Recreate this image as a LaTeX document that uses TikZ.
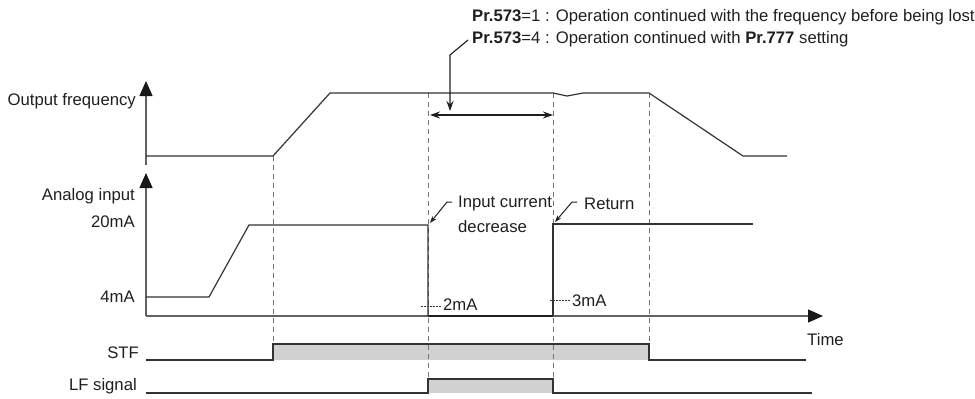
\documentclass[tikz,border=0pt]{standalone}
\usepackage{fontspec}
\setmainfont{Liberation Sans}
\usetikzlibrary{arrows.meta}
\begin{document}
\begin{tikzpicture}[x=1pt,y=-1pt,
  lbl/.style={font=\fontsize{16.7}{20}\selectfont, inner sep=0pt, text=black!88},
  sig/.style={draw=black!80, line width=1.2pt},
  thick sig/.style={draw=black!88, line width=1.8pt},
  ax/.style={draw=black!62, line width=1.3pt},
  vl/.style={draw=black!55, dash pattern=on 5pt off 4pt, line width=0.9pt},
  dotl/.style={draw=black!80, dash pattern=on 1.5pt off 1.5pt, line width=1pt},
  grayfill/.style={fill=black!18, draw=none},
  axhead/.style={-{Triangle[width=13pt,length=15pt,color=black!90]}},
  ptr/.style={draw=black!88, line width=1.1pt, -{Stealth[width=7pt,length=10pt]}},
  dbl/.style={draw=black!88, line width=1.1pt, {Stealth[width=7pt,length=10pt]}-{Stealth[width=7pt,length=10pt]}}
]
\useasboundingbox (0,0) rectangle (975,399);

% fills
\fill[grayfill] (273,344) rectangle (649,360);
\fill[grayfill] (428,379) rectangle (553,393);

% dashed verticals
\draw[vl] (273,156) -- (273,344);
\draw[vl] (428,93) -- (428,379);
\draw[vl] (553,93) -- (553,379);
\draw[vl] (649,93) -- (649,344);

% axes
\coordinate (ofb) at (146,165);
\coordinate (oft) at (146,81);
\draw[ax,axhead] (ofb) -- (oft);
\coordinate (org) at (146,316);
\coordinate (ait) at (146,173);
\coordinate (tend) at (823,316);
\draw[ax,axhead] (org) -- (ait);
\draw[ax,axhead] (org) -- (tend);

% output frequency
\draw[sig] (146,156) -- (273,156) -- (330,93) -- (553,93) -- (567,96) -- (583,93) -- (649,93) -- (743,156) -- (787,156);

% analog input
\draw[sig] (146,297) -- (209,297) -- (249,225) -- (428,225) -- (428,316);
\draw[thick sig] (428,316) -- (553,316);
\draw[sig] (553,316) -- (553,224) -- (753,224);

% STF
\draw[sig] (146,360) -- (273,360) -- (273,344) -- (649,344) -- (649,360) -- (806,360);
% LF
\draw[sig] (146,393) -- (428,393) -- (428,379) -- (553,379) -- (553,393) -- (812,393);

% dotted level marks
\draw[dotl] (421,306) -- (442,306);
\draw[dotl] (550,300) -- (570,300);

% double arrow
\coordinate (da1) at (430,115);
\coordinate (da2) at (553,115);
\draw[dbl] (da1) -- (da2);

% pointer from text
\coordinate (p0) at (468,40);
\coordinate (p1) at (450,55);
\coordinate (p2) at (450,111);
\draw[ptr] (p0) -- (p1) -- (p2);

% small arrows
\coordinate (ic0) at (452,202);
\coordinate (ic1) at (447,202);
\coordinate (ic2) at (430,223);
\draw[draw=black!88, line width=1pt, -{Stealth[width=5pt,length=7pt]}] (ic0) -- (ic1) -- (ic2);
\coordinate (rt0) at (577,202);
\coordinate (rt1) at (572,202);
\coordinate (rt2) at (555,222);
\draw[draw=black!88, line width=1pt, -{Stealth[width=5pt,length=7pt]}] (rt0) -- (rt1) -- (rt2);

% labels
\node[lbl, anchor=base east] (lof) at (136,105) {Output frequency};
\node[lbl, anchor=base east] (lai) at (135,200) {Analog input};
\node[lbl, anchor=base east] (l20) at (135,227) {20mA};
\node[lbl, anchor=base east] (l4) at (135,302) {4mA};
\node[lbl, anchor=base east] (lstf) at (139,358) {STF};
\node[lbl, anchor=base east] (llf) at (137,390) {LF signal};
\node[lbl, anchor=base west] (ltime) at (807,345) {Time};
\node[lbl, anchor=base west] (l2) at (443,310) {2mA};
\node[lbl, anchor=base west] (l3) at (572,306) {3mA};
\node[lbl, anchor=base west] (lic) at (458,207) {Input current};
\node[lbl, anchor=base west] (ldec) at (458,232) {decrease};
\node[lbl, anchor=base west] (lret) at (584,209) {Return};
\node[lbl, anchor=base west] (t1) at (472,21) {\textbf{Pr.573}=1 : Operation continued with the frequency before being lost};
\node[lbl, anchor=base west] (t2) at (472,43) {\textbf{Pr.573}=4 : Operation continued with \textbf{Pr.777} setting};
\end{tikzpicture}
\end{document}
